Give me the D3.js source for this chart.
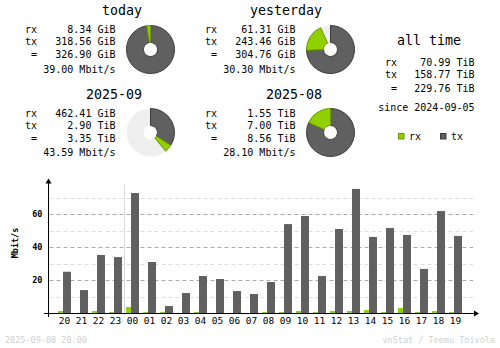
<!DOCTYPE html>
<html><head><meta charset="utf-8">
<script src="https://cdn.jsdelivr.net/npm/d3@7"></script>
<style>
html,body{margin:0;padding:0;background:#fff;}
svg{display:block;}
text{font-family:"DejaVu Sans Mono",monospace;fill:#000;}
</style></head>
<body>
<script>
// ---- data ----
const hours = ["20","21","22","23","00","01","02","03","04","05","06","07","08","09","10","11","12","13","14","15","16","17","18","19"];
const rxHourly = [1.2,0,1.2,0.6,3.6,0.6,0.6,0,0.6,0,0,0,0.6,0.6,1.2,0.6,1.2,1.2,1.8,0.6,3.0,0.6,1.2,0.6];
const txHourly = [25.0,13.9,35.2,33.9,72.7,30.9,4.2,12.1,22.4,20.6,13.3,11.5,18.8,53.9,58.8,22.4,50.9,75.2,46.1,51.5,47.3,26.7,61.8,46.7];
const yTicks = [20,40,60];
const yGrid = [10,20,30,40,50,60,70];

const periods = ["today","yesterday","2025-09","2025-08"];
const rxGiB = [8.34, 61.31, 462.41, 1587.2];
const txGiB = [318.56, 243.46, 2969.6, 7168.0];
const rxText = ["8.34 GiB","61.31 GiB","462.41 GiB","1.55 TiB"];
const txText = ["318.56 GiB","243.46 GiB","2.90 TiB","7.00 TiB"];
const totText = ["326.90 GiB","304.76 GiB","3.35 TiB","8.56 TiB"];
const rateText = ["39.00 Mbit/s","30.30 Mbit/s","43.59 Mbit/s","28.10 Mbit/s"];

const allTimeLabels = ["rx","tx","="];
const allTimeText = ["70.99 TiB","158.77 TiB","229.76 TiB"];
const sinceText = "since 2024-09-05";
const footerLeft = "2025-09-08 20:00";
const footerRight = "vnStat / Teemu Toivola";

const cRx = "#92cf00", cRxEdge = "#6a9600", cTx = "#606060", cTxEdge = "#3c3c3c";

const svg = d3.select("body").append("svg").attr("width",500).attr("height",348);

// ---- summary blocks ----
const blockX = [0,180,0,180], blockY = [0,0,83.5,83.5];
const titleRightX = 142;
periods.forEach((p,i)=>{
  const g = svg.append("g").attr("transform",`translate(${blockX[i]},${blockY[i]})`);
  g.append("text").attr("x",titleRightX).attr("y",15).attr("text-anchor","end")
    .style("font-size","13.3px").text(p);
  const labels = ["rx","tx","="];
  const vals = [rxText[i],txText[i],totText[i]];
  const ys = [33,45,58];
  labels.forEach((l,j)=>{
    g.append("text").attr("x",37).attr("y",ys[j]).attr("text-anchor","end").style("font-size","10px").text(l);
    g.append("text").attr("x",115.5).attr("y",ys[j]).attr("text-anchor","end").style("font-size","10px").text(vals[j]);
  });
  g.append("text").attr("x",115.5).attr("y",72.5).attr("text-anchor","end").style("font-size","10px").text(rateText[i]);
});

// ---- pies ----
const pieCx = [150.5,330.5,150.5,330.5], pieCy = [49.5,49.5,132.5,132.5];
const rOut = 24, rIn = 7;
const arc = d3.arc().innerRadius(rIn).outerRadius(rOut);
[[0,1],[2,3]].forEach(pair=>{
  const maxTot = d3.max(pair, i=>rxGiB[i]+txGiB[i]);
  pair.forEach(i=>{
    const tot = rxGiB[i]+txGiB[i];
    const scale = d3.scaleLinear().domain([0,maxTot]).range([0,2*Math.PI]);
    const g = svg.append("g").attr("transform",`translate(${pieCx[i]},${pieCy[i]})`);
    if (tot < maxTot) {
      g.append("path").attr("d",arc({startAngle:0,endAngle:2*Math.PI})).attr("fill","#efefef");
    }
    const aTx = scale(txGiB[i]), aAll = scale(tot);
    g.append("path").attr("d",arc({startAngle:0,endAngle:aTx})).attr("fill",cTx).attr("stroke",cTxEdge).attr("stroke-width",1);
    g.append("path").attr("d",arc({startAngle:aTx,endAngle:aAll})).attr("fill",cRx).attr("stroke",cRxEdge).attr("stroke-width",1);
  });
});

// ---- all time ----
svg.append("text").attr("x",429).attr("y",44.5).attr("text-anchor","middle").style("font-size","13.3px").text("all time");
const atY = [65.5,77.5,91.5];
allTimeLabels.forEach((l,j)=>{
  svg.append("text").attr("x",397).attr("y",atY[j]).attr("text-anchor","end").style("font-size","10px").text(l);
  svg.append("text").attr("x",474.5).attr("y",atY[j]).attr("text-anchor","end").style("font-size","10px").text(allTimeText[j]);
});
svg.append("text").attr("x",474.5).attr("y",111).attr("text-anchor","end").style("font-size","10px").text(sinceText);

// legend
const legend = [{k:"rx",c:cRx,e:cRxEdge,x:398.5},{k:"tx",c:cTx,e:cTxEdge,x:440.5}];
legend.forEach(d=>{
  svg.append("rect").attr("x",d.x).attr("y",133.5).attr("width",5.5).attr("height",5.5).attr("fill",d.c).attr("stroke",d.e);
  svg.append("text").attr("x",d.x+10.5).attr("y",140).style("font-size","10px").text(d.k);
});

// ---- hourly chart ----
const x = d3.scaleBand().domain(hours).range([56,464]).padding(0);
const y = d3.scaleLinear().domain([0,80]).range([313,181]);
const axisX = 48.5;

// grid
svg.append("g").selectAll("line").data(yGrid).join("line")
  .attr("x1",axisX+1).attr("x2",473).attr("y1",d=>Math.round(y(d))+0.5).attr("y2",d=>Math.round(y(d))+0.5)
  .attr("stroke",d=>d%20===0?"#ababab":"#dedede").attr("stroke-width",1).attr("stroke-dasharray","4,3");

// day boundary line
const bx = x("00");
svg.append("line").attr("x1",bx+0.5).attr("x2",bx+0.5).attr("y1",184).attr("y2",313).attr("stroke","#d8d8d8");

// bars
svg.append("g").selectAll("rect").data(hours.map((h,i)=>({h,v:rxHourly[i]}))).join("rect")
  .attr("x",d=>x(d.h)+2).attr("width",5)
  .attr("y",d=>y(d.v)).attr("height",d=>y(0)-y(d.v)).attr("fill",cRx);
svg.append("g").selectAll("rect").data(hours.map((h,i)=>({h,v:txHourly[i]}))).join("rect")
  .attr("x",d=>x(d.h)+7).attr("width",8)
  .attr("y",d=>y(d.v)).attr("height",d=>y(0)-y(d.v)).attr("fill",cTx);

// axes lines
svg.append("line").attr("x1",axisX).attr("x2",axisX).attr("y1",182).attr("y2",317).attr("stroke","#000");
svg.append("path").attr("d",`M${axisX-3},${183.5}L${axisX+3},${183.5}L${axisX},${178.5}Z`).attr("fill","#000");
svg.append("line").attr("x1",44).attr("x2",475).attr("y1",313.5).attr("y2",313.5).attr("stroke","#000");
svg.append("path").attr("d",`M474,310.5L474,316.5L479,313.5Z`).attr("fill","#000");

// y tick labels
const yAxis = d3.axisLeft(y).tickValues(yTicks).tickSize(0).tickPadding(0);
const ya = svg.append("g").attr("transform","translate(42.5,0)").call(yAxis);
ya.select(".domain").remove();
ya.selectAll("text").style("font-family","DejaVu Sans Mono, monospace").style("font-size","8.5px").style("font-weight","bold").attr("fill","#000").attr("x",0);

// x labels
const xAxis = d3.axisBottom(x).tickSize(0).tickPadding(0);
const xa = svg.append("g").attr("transform","translate(0,317)").call(xAxis);
xa.select(".domain").remove();
xa.selectAll("text").style("font-family","DejaVu Sans Mono, monospace").style("font-size","9.5px").attr("fill","#000").attr("dy","0.71em");

// y label
svg.append("text").attr("transform","translate(17.5,243) rotate(-90)").attr("text-anchor","middle")
  .style("font-size","8.5px").style("font-weight","bold").text("Mbit/s");

// footer
svg.append("text").attr("x",5).attr("y",343).style("font-size","8.5px").style("fill","#d0d0d0").text(footerLeft);
svg.append("text").attr("x",495).attr("y",343).attr("text-anchor","end").style("font-size","8.5px").style("fill","#d0d0d0").text(footerRight);
</script>
</body></html>
